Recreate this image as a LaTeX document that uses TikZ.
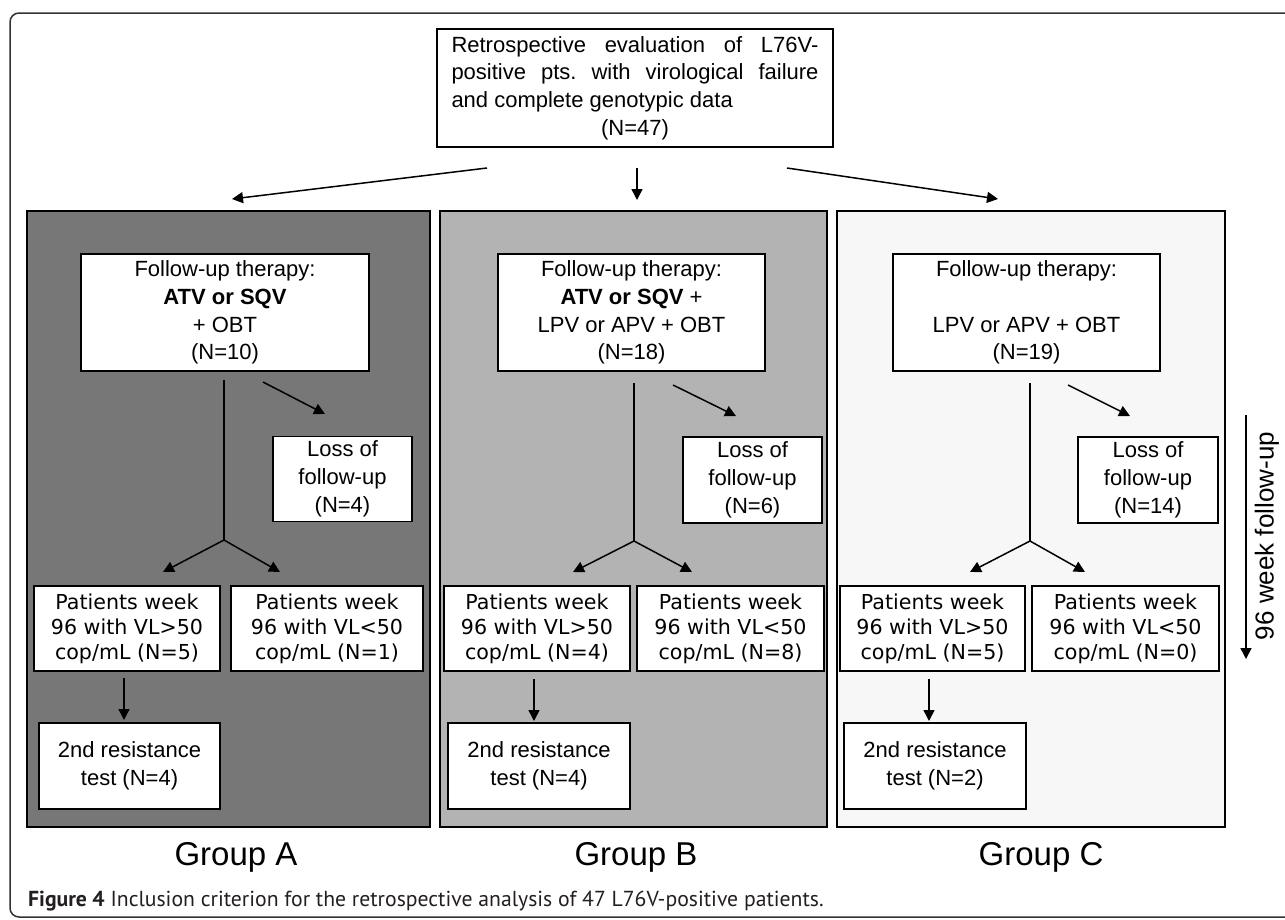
\documentclass[tikz,border=0pt]{standalone}
\usepackage{fontspec}
\setmainfont{Liberation Sans}
\newfontfamily\verdfont{DejaVu Sans}
\newfontfamily\capfont{PT Sans}
\usetikzlibrary{arrows.meta}
\definecolor{panelA}{HTML}{777777}
\definecolor{panelB}{HTML}{B3B3B3}
\definecolor{panelC}{HTML}{F7F7F7}
\definecolor{capgray}{HTML}{231F20}
\begin{document}
\begin{tikzpicture}[x=1pt,y=-1pt,
 box/.style={draw=black, line width=1.6pt, fill=white, inner sep=0pt, align=center, font=\fontsize{22}{27.7}\selectfont},
 pbox/.style={box, font=\verdfont\fontsize{20.6}{25}\selectfont},
 panel/.style={draw=black, line width=1.8pt, inner sep=0pt},
 arr/.style={line width=1.5pt, -{Triangle[length=11pt,width=11pt]}},
 ln/.style={line width=1.5pt},
 grp/.style={font=\fontsize{33}{36}\selectfont}
]
\useasboundingbox (0,0) rectangle (1285,919);
\begin{scope}
\clip (0,0) rectangle (1285,919);
\draw[black!80, line width=1.5pt, rounded corners=9pt] (10,13) rectangle (1320,917);
\end{scope}

% top box
\node[box, minimum width=396pt, minimum height=118pt] (top) at (635,88)
 {\parbox{367pt}{\hbox to 367pt{Retrospective\hfill evaluation\hfill of\hfill L76V-}%
 \hbox to 367pt{positive\hfill pts.\hfill with\hfill virological\hfill failure}%
 \hbox{and complete genotypic data}%
 \hbox to 367pt{\hfill(N=47)\hfill}}};

% panels
\node[panel, fill=panelA, minimum width=403pt, minimum height=616pt] (pA) at (228.5,519) {};
\node[panel, fill=panelB, minimum width=387pt, minimum height=616pt] (pB) at (633.5,519) {};
\node[panel, fill=panelC, minimum width=388pt, minimum height=616pt] (pC) at (1031,519) {};

% arrows from top box
\coordinate (tL) at (487,168);
\coordinate (tM) at (637,168);
\coordinate (tR) at (787,168);
\coordinate (eA) at (232,199);
\coordinate (eB) at (637,200);
\coordinate (eC) at (998,199);
\draw[arr] (tL) -- (eA);
\draw[arr] (tM) -- (eB);
\draw[arr] (tR) -- (eC);

% ---------- Group A ----------
\node[box, minimum width=288pt, minimum height=117pt] (fA) at (225,312.5)
 {Follow-up therapy:\\\textbf{ATV or SQV}\\+ OBT\\(N=10)};
\node[box, minimum width=139pt, minimum height=85pt] (lA) at (342.5,479)
 {Loss of\\follow-up\\(N=4)};
\node[pbox, minimum width=186pt, minimum height=85pt] (hA) at (127,628.5)
 {Patients week\\96 with VL>50\\cop/mL (N=5)};
\node[pbox, minimum width=192pt, minimum height=85pt] (kA) at (327,628.5)
 {Patients week\\96 with VL<50\\cop/mL (N=1)};
\node[box, minimum width=181pt, minimum height=86pt] (rA) at (129.5,766)
 {2nd resistance\\test (N=4)};
\coordinate (vA) at (224,380);
\coordinate (jA) at (224,540);
\coordinate (hAt) at (163,572);
\coordinate (kAt) at (280,572);
\coordinate (lAs) at (263,382);
\coordinate (lAt) at (325,414);
\coordinate (dAs) at (124,678);
\coordinate (dAt) at (124,720);
\draw[ln] (vA) -- (jA);
\draw[arr] (jA) -- (hAt);
\draw[arr] (jA) -- (kAt);
\draw[arr] (lAs) -- (lAt);
\draw[arr] (dAs) -- (dAt);

% ---------- Group B ----------
\node[box, minimum width=267pt, minimum height=117pt] (fB) at (631.5,312.5)
 {Follow-up therapy:\\\textbf{ATV or SQV} +\\LPV or APV + OBT\\(N=18)};
\node[box, minimum width=139pt, minimum height=86pt] (lB) at (752.5,480)
 {Loss of\\follow-up\\(N=6)};
\node[pbox, minimum width=186pt, minimum height=85pt] (hB) at (537,628.5)
 {Patients week\\96 with VL>50\\cop/mL (N=4)};
\node[pbox, minimum width=187pt, minimum height=85pt] (kB) at (730.5,628.5)
 {Patients week\\96 with VL<50\\cop/mL (N=8)};
\node[box, minimum width=182pt, minimum height=86pt] (rB) at (539,766)
 {2nd resistance\\test (N=4)};
\coordinate (vB) at (634,383);
\coordinate (jB) at (634,541);
\coordinate (hBt) at (573,572);
\coordinate (kBt) at (692,572);
\coordinate (lBs) at (673,385);
\coordinate (lBt) at (736,416);
\coordinate (dBs) at (534,679);
\coordinate (dBt) at (534,721);
\draw[ln] (vB) -- (jB);
\draw[arr] (jB) -- (hBt);
\draw[arr] (jB) -- (kBt);
\draw[arr] (lBs) -- (lBt);
\draw[arr] (dBs) -- (dBt);

% ---------- Group C ----------
\node[box, minimum width=267pt, minimum height=117pt] (fC) at (1026.5,312.5)
 {Follow-up therapy:\\\strut\\LPV or APV + OBT\\(N=19)};
\node[box, minimum width=140pt, minimum height=86pt] (lC) at (1148,480)
 {Loss of\\follow-up\\(N=14)};
\node[pbox, minimum width=185pt, minimum height=85pt] (hC) at (932.5,628.5)
 {Patients week\\96 with VL>50\\cop/mL (N=5)};
\node[pbox, minimum width=187pt, minimum height=85pt] (kC) at (1125.5,628.5)
 {Patients week\\96 with VL<50\\cop/mL (N=0)};
\node[box, minimum width=182pt, minimum height=86pt] (rC) at (935,766)
 {2nd resistance\\test (N=2)};
\coordinate (vC) at (1030,383);
\coordinate (jC) at (1030,541);
\coordinate (hCt) at (970,572);
\coordinate (kCt) at (1085,572);
\coordinate (lCs) at (1068,385);
\coordinate (lCt) at (1130,416);
\coordinate (dCs) at (929,679);
\coordinate (dCt) at (929,721);
\draw[ln] (vC) -- (jC);
\draw[arr] (jC) -- (hCt);
\draw[arr] (jC) -- (kCt);
\draw[arr] (lCs) -- (lCt);
\draw[arr] (dCs) -- (dCt);

% follow-up time axis
\coordinate (fuS) at (1246,415);
\coordinate (fuE) at (1246,659);
\draw[arr] (fuS) -- (fuE);
\node[rotate=90, font=\fontsize{26}{30}\selectfont, inner sep=0pt] (fuL) at (1267,536) {96 week follow-up};

% group labels
\node[grp] (gA) at (236,857) {Group A};
\node[grp] (gB) at (636,857) {Group B};
\node[grp] (gC) at (1041,857) {Group C};

% caption
\node[anchor=west, inner sep=0pt, text=capgray, font=\capfont\fontsize{21.7}{24}\selectfont] (cap) at (28,901)
 {\textbf{Figure 4} Inclusion criterion for the retrospective analysis of 47 L76V-positive patients.};
\end{tikzpicture}
\end{document}
